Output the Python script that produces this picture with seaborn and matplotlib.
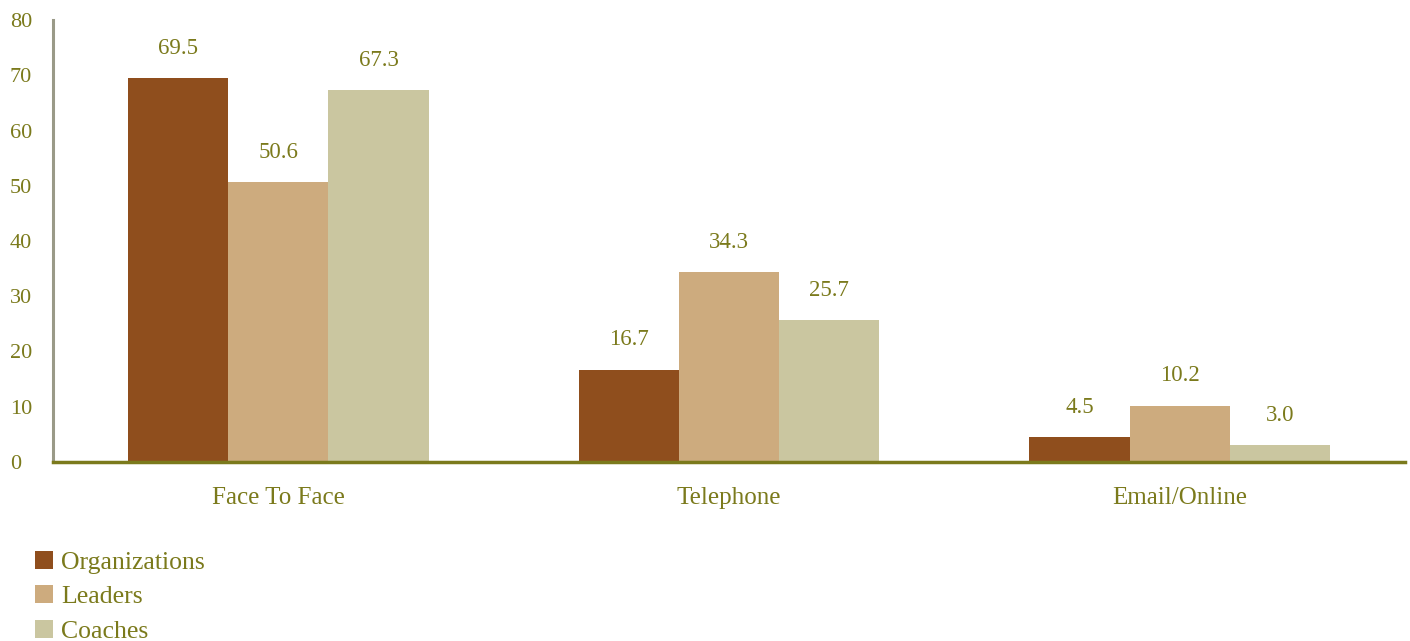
import matplotlib
matplotlib.use("Agg")
import matplotlib.pyplot as plt
import seaborn as sns
import pandas as pd
from matplotlib.patches import Patch

channels = ["Face To Face", "Telephone", "Email/Online"]
groups = ["Organizations", "Leaders", "Coaches"]
organizations = [69.5, 16.7, 4.5]
leaders = [50.6, 34.3, 10.2]
coaches = [67.3, 25.7, 3.0]
y_ticks = [0, 10, 20, 30, 40, 50, 60, 70, 80]

colors = ["#8f4e1d", "#cdab7e", "#cac6a0"]
text_color = "#7b7a1c"

sns.set_theme(style="white")
plt.rcParams["font.family"] = ["Liberation Serif", "DejaVu Serif"]

rows = []
for g, vals in zip(groups, [organizations, leaders, coaches]):
    for c, v in zip(channels, vals):
        rows.append({"channel": c, "group": g, "value": v})
df = pd.DataFrame(rows)

fig = plt.figure(figsize=(14.1, 6.41), dpi=100)
ax = fig.add_axes([53 / 1410, 1 - 462 / 641, (1405 - 53) / 1410, (462 - 20) / 641])

sns.barplot(data=df, x="channel", y="value", hue="group", order=channels,
            hue_order=groups, palette=colors, width=0.667, dodge=True,
            saturation=1, errorbar=None, ax=ax, legend=False, linewidth=0)

for cont in ax.containers:
    ax.bar_label(cont, fmt="%.1f", padding=14, color=text_color, fontsize=16.5)

ax.set_xlim(-0.5, 2.5)
ax.set_ylim(0, 80)
ax.set_yticks(y_ticks)
ax.set_yticklabels([str(t) for t in y_ticks])
ax.set_xlabel("")
ax.set_ylabel("")
ax.tick_params(axis="y", length=0, pad=31, labelsize=16, labelcolor=text_color)
ax.tick_params(axis="x", length=0, pad=18, labelsize=18, labelcolor=text_color)
for lab in ax.get_yticklabels():
    lab.set_horizontalalignment("left")

for s in ["top", "right"]:
    ax.spines[s].set_visible(False)
ax.spines["left"].set_color("#9a9a88")
ax.spines["left"].set_linewidth(2.2)
ax.spines["bottom"].set_color("#7b7a1c")
ax.spines["bottom"].set_linewidth(2.5)

handles = [Patch(facecolor=c, edgecolor="none") for c in colors]
leg = fig.legend(handles, groups, loc="upper left", bbox_to_anchor=(35 / 1410, 1 - 551 / 641),
                 frameon=False, fontsize=18.5, handlelength=0.7, handleheight=0.7,
                 handletextpad=0.31, labelspacing=0.44, borderpad=0, borderaxespad=0)
for t in leg.get_texts():
    t.set_color(text_color)

fig.savefig("out.png", dpi=100)
